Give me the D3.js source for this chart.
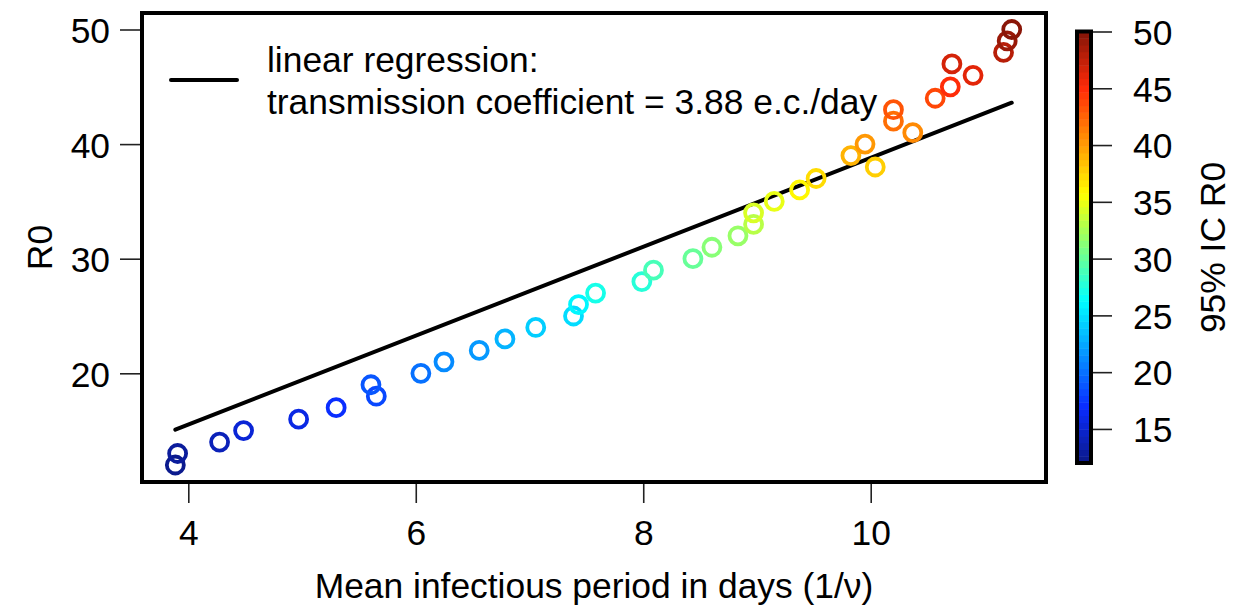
<!DOCTYPE html>
<html>
<head>
<meta charset="utf-8">
<script src="https://cdn.jsdelivr.net/npm/d3@7"></script>
<style>
  html, body { margin: 0; padding: 0; background: #fff; }
  svg { display: block; }
  text { font-family: "Liberation Sans", Arial, Helvetica, sans-serif; fill: #000; }
</style>
</head>
<body>
<svg id="chart" width="1255" height="609"></svg>
<script>
// Basic reproduction number for each assumed mean infectious period
const r0Values = [12, 13, 14, 15, 16, 17, 18, 19, 20, 21, 22, 23, 24, 25, 26, 27, 28, 29, 30,
                  31, 32, 33, 34, 35, 36, 37, 38, 39, 40, 41, 42, 43, 44, 45, 46, 47, 48, 49, 50];
const periodDays = [3.886, 3.906, 4.275, 4.486, 4.97, 5.30, 5.653, 5.606, 6.045, 6.248, 6.558,
                    6.784, 7.055, 7.387, 7.431, 7.581, 7.988, 8.09, 8.437, 8.604, 8.833, 8.97,
                    8.97, 9.152, 9.375, 9.52, 10.04, 9.826, 9.95, 10.37, 10.20, 10.20, 10.567,
                    10.70, 10.90, 10.714, 11.168, 11.20, 11.24];
const slope = 3.88; // transmission coefficient (e.c./day), regression through the origin

const xTicks = [4, 6, 8, 10];
const yTicks = [20, 30, 40, 50];
const barTicks = [15, 20, 25, 30, 35, 40, 45, 50];
const legendLines = ["linear regression:", "transmission coefficient = 3.88 e.c./day"];

const FONT = "35.4px";
const svg = d3.select("#chart");
const box = { left: 142, right: 1046, top: 13, bottom: 482 };

const x = d3.scaleLinear().domain([4, 10]).range([188.3, 870.7]);
const y = d3.scaleLinear().domain([20, 50]).range([373.3, 29.5]);

// 64-step jet palette over the R0 range
const nLevels = 64;
const jet = d3.scaleLinear()
  .domain([0, 0.125, 0.375, 0.625, 0.875, 1])
  .range(["#0b1a8e", "#0a2cff", "#00ffff", "#ffff00", "#ff2a08", "#8a1608"])
  .interpolate(d3.interpolateRgb);
const cMin = d3.min(r0Values), cMax = d3.max(r0Values);
const palette = d3.range(nLevels).map(i => jet(i / (nLevels - 1)));
const colorOf = v => {
  const i = Math.min(nLevels - 1, Math.floor((v - cMin) / (cMax - cMin) * nLevels));
  return palette[i];
};

// Axes
const xAxis = svg.append("g")
  .attr("transform", `translate(0,${box.bottom + 1})`)
  .call(d3.axisBottom(x).tickValues(xTicks).tickSize(20).tickPadding(17).tickFormat(d3.format("d")));
const yAxis = svg.append("g")
  .attr("transform", `translate(${box.left - 2},0)`)
  .call(d3.axisLeft(y).tickValues(yTicks).tickSize(20).tickPadding(10).tickFormat(d3.format("d")));
[xAxis, yAxis].forEach(g => {
  g.select(".domain").remove();
  g.selectAll(".tick line").attr("stroke", "#222").attr("stroke-width", 1.6);
  g.selectAll(".tick text").style("font-size", FONT).attr("fill", "#000");
});
yAxis.selectAll(".tick text").attr("dy", "0.37em");

// Axis titles
svg.append("text")
  .attr("x", (box.left + box.right) / 2).attr("y", 598)
  .attr("text-anchor", "middle").style("font-size", FONT)
  .text("Mean infectious period in days (1/\u03BD)");
svg.append("text")
  .attr("transform", `translate(52,${(box.top + box.bottom) / 2}) rotate(-90)`)
  .attr("text-anchor", "middle").style("font-size", FONT)
  .text("R0");

// Regression line over the observed period range
const [pMin, pMax] = d3.extent(periodDays);
svg.append("line")
  .attr("x1", x(pMin)).attr("y1", y(slope * pMin))
  .attr("x2", x(pMax)).attr("y2", y(slope * pMax))
  .attr("stroke", "#000").attr("stroke-width", 4).attr("stroke-linecap", "round");

// Points
svg.append("g").selectAll("circle")
  .data(r0Values.map((v, i) => ({ r0: v, d: periodDays[i] })))
  .join("circle")
  .attr("cx", p => x(p.d)).attr("cy", p => y(p.r0)).attr("r", 8.5)
  .attr("fill", "none").attr("stroke", p => colorOf(p.r0)).attr("stroke-width", 3.8);

// Plot frame
svg.append("rect")
  .attr("x", box.left).attr("y", box.top)
  .attr("width", box.right - box.left).attr("height", box.bottom - box.top)
  .attr("fill", "none").attr("stroke", "#000").attr("stroke-width", 4);

// Legend
svg.append("line")
  .attr("x1", 171).attr("x2", 237).attr("y1", 80).attr("y2", 80)
  .attr("stroke", "#000").attr("stroke-width", 4).attr("stroke-linecap", "round");
svg.append("g").selectAll("text")
  .data(legendLines).join("text")
  .attr("x", 267).attr("y", (d, i) => 72 + i * 41.5)
  .style("font-size", FONT)
  .text(d => d);

// Colour bar
const barX = 1077, barW = 14;
const cb = d3.scaleLinear().domain([cMin, cMax]).range([463, 31.5]);
const step = (cMax - cMin) / nLevels;
svg.append("g").selectAll("rect")
  .data(palette).join("rect")
  .attr("x", barX).attr("width", barW)
  .attr("y", (c, i) => cb(cMin + (i + 1) * step))
  .attr("height", (c, i) => cb(cMin + i * step) - cb(cMin + (i + 1) * step) + 0.5)
  .attr("fill", c => c);
svg.append("rect")
  .attr("x", barX).attr("y", cb(cMax)).attr("width", barW).attr("height", cb(cMin) - cb(cMax))
  .attr("fill", "none").attr("stroke", "#000").attr("stroke-width", 4);
const barAxis = svg.append("g")
  .attr("transform", `translate(${barX + barW + 2},0)`)
  .call(d3.axisRight(cb).tickValues(barTicks).tickSize(19).tickPadding(21).tickFormat(d3.format("d")));
barAxis.select(".domain").remove();
barAxis.selectAll(".tick line").attr("stroke", "#222").attr("stroke-width", 1.6);
barAxis.selectAll(".tick text").style("font-size", FONT).attr("fill", "#000").attr("dy", "0.36em");

svg.append("text")
  .attr("transform", `translate(1225,${(box.top + box.bottom) / 2}) rotate(-90)`)
  .attr("text-anchor", "middle").style("font-size", FONT)
  .text("95% IC R0");
</script>
</body>
</html>
